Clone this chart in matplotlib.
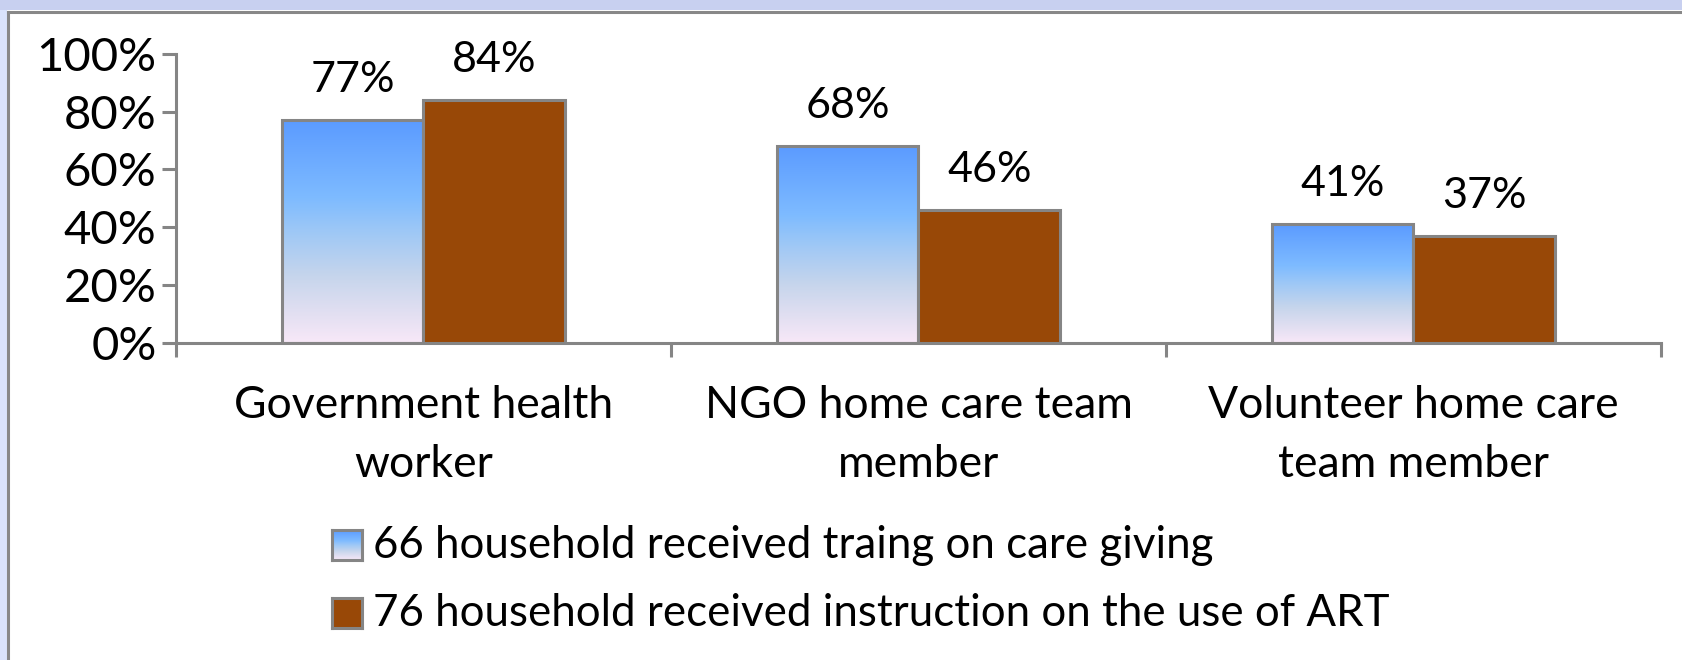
import matplotlib
matplotlib.use("Agg")
import matplotlib.pyplot as plt
import numpy as np
from matplotlib.colors import LinearSegmentedColormap
from matplotlib.patches import Rectangle

categories = ["Government health\nworker", "NGO home care team\nmember", "Volunteer home care\nteam member"]
series_names = ["66 household received traing on care giving",
                "76 household received instruction on the use of ART"]
training = [77, 68, 41]
art = [84, 46, 37]
yticks = [0, 20, 40, 60, 80, 100]
ytick_labels = ["0%", "20%", "40%", "60%", "80%", "100%"]

FONT = ["Lato", "DejaVu Sans"]
plt.rcParams['font.family'] = FONT
FS = 32

blue_cmap = LinearSegmentedColormap.from_list(
    "bluegrad",
    [(0.0, "#F8E8F8"), (0.12, "#E4E0F2"), (0.3, "#C6D5EC"),
     (0.5, "#9EC8F6"), (0.65, "#7EBBFF"), (1.0, "#5B9BFF")])
BROWN = "#984807"
EDGE = "#858585"

fig = plt.figure(figsize=(16.83, 6.60), dpi=100)
W, H = 1683, 660

# outer frame bands
fig.add_artist(Rectangle((0, 1 - 10 / H), 1, 10 / H, transform=fig.transFigure,
                         facecolor="#C8D0F0", edgecolor="none", zorder=0))
fig.add_artist(Rectangle((0, 0), 7 / W, 1 - 10 / H, transform=fig.transFigure,
                         facecolor="#DAE3FB", edgecolor="none", zorder=0))
fig.add_artist(plt.Line2D([8 / W, 1], [1 - 11.5 / H, 1 - 11.5 / H], transform=fig.transFigure,
                          color="#888888", lw=2.2))
fig.add_artist(plt.Line2D([8 / W, 8 / W], [0, 1 - 11.5 / H], transform=fig.transFigure,
                          color="#888888", lw=2.2))

ax = fig.add_axes([176 / W, (660 - 343) / H, (1661 - 176) / W, (343 - 53.7) / H])
ax.patch.set_alpha(0)

x = np.arange(len(categories))
w = 0.2857
b1 = ax.bar(x - w / 2, training, w, facecolor="none", edgecolor=EDGE, linewidth=2.2, zorder=3)
b2 = ax.bar(x + w / 2, art, w, facecolor=BROWN, edgecolor=EDGE, linewidth=2.2, zorder=3)

grad = np.linspace(0, 1, 256).reshape(-1, 1)
for p in b1.patches:
    x0, y0 = p.get_x(), p.get_y()
    im = ax.imshow(grad, cmap=blue_cmap, origin="lower", aspect="auto",
                   extent=(x0, x0 + p.get_width(), y0, y0 + p.get_height()), zorder=2)
    im.set_clip_path(p)

ax.set_xlim(-0.5, 2.5)
ax.set_ylim(0, 100)

for bars, vals in ((b1, training), (b2, art)):
    for p, v in zip(bars.patches, vals):
        ax.annotate(f"{v}%", (p.get_x() + p.get_width() / 2, v), xytext=(0, 29),
                    textcoords="offset points", ha="center", va="center", fontsize=31)

for s in ("top", "right"):
    ax.spines[s].set_visible(False)
for s in ("left", "bottom"):
    ax.spines[s].set_color(EDGE)
    ax.spines[s].set_linewidth(2.2)

ax.set_yticks(yticks)
ax.set_yticklabels(ytick_labels, fontsize=34)
ax.tick_params(axis="y", direction="out", length=10, width=2.2, color=EDGE, pad=4)

ax.set_xticks(x)
ax.set_xticklabels(categories, fontsize=FS, linespacing=1.55)
ax.tick_params(axis="x", which="major", length=0, pad=30)
ax.set_xticks([-0.5, 0.5, 1.5, 2.5], minor=True)
ax.tick_params(axis="x", which="minor", direction="out", length=10, width=2.2, color=EDGE)

# legend (manual)
leg_y = [545, 613]
for i, (name, yy) in enumerate(zip(series_names, leg_y)):
    sq = 30
    lax = fig.add_axes([332 / W, (660 - yy - sq / 2) / H, sq / W, sq / H])
    lax.set_xticks([]); lax.set_yticks([])
    for s in lax.spines.values():
        s.set_color(EDGE); s.set_linewidth(2.2)
    if i == 0:
        lax.imshow(grad, cmap=blue_cmap, origin="lower", aspect="auto", extent=(0, 1, 0, 1))
    else:
        lax.set_facecolor(BROWN)
    fig.text(373 / W, (660 - yy) / H, name, fontsize=31.6, ha="left", va="center")

fig.savefig("out.png", dpi=100)
